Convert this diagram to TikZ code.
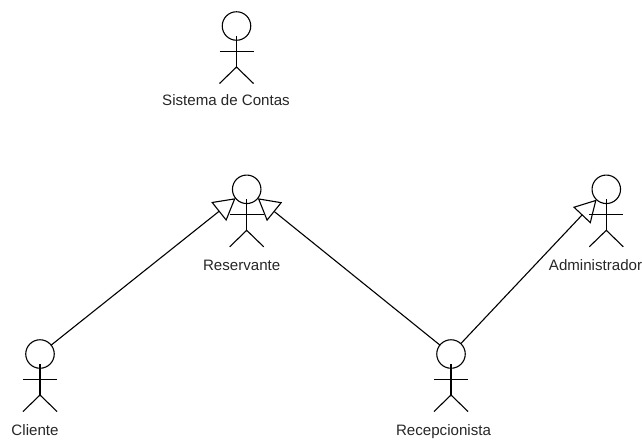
\documentclass[tikz,border=0pt]{standalone}
\usepackage{fontspec}
\setmainfont{Liberation Sans}
\usetikzlibrary{arrows.meta}
\tikzset{
  actorhead/.style={circle,draw,line width=1.1pt,minimum size=28.5pt,inner sep=0pt,outer sep=0pt},
  actorlabel/.style={font=\fontsize{15.1pt}{17pt}\selectfont,text=black!85,inner sep=0pt,anchor=base},
  limb/.style={line width=1.1pt},
  generalize/.style={line width=1.1pt,-{Triangle[open,length=21.5pt,width=24pt,line width=1.1pt]}}
}
\newcommand{\stickman}[6]{%
  \node[actorhead] (#1) at (#2,#3) {};
  \draw[limb] (#2,#3+10) -- (#2,#3+41);
  \draw[limb] (#2-17,#3+25.5) -- (#2+17,#3+25.5);
  \draw[limb] (#2-17,#3+57.5) -- (#2,#3+41) -- (#2+17,#3+57.5);
  \node[actorlabel] (#1label) at (#5,#6) {#4};
}
\begin{document}
\begin{tikzpicture}[x=1pt,y=-1pt]
  \useasboundingbox (0,0) rectangle (642,440);
  \stickman{contas}{236.5}{26}{Sistema de Contas}{226}{105}
  \stickman{reservante}{246.7}{189.3}{Reservante}{241.7}{270}
  \stickman{admin}{606.3}{189.3}{Administrador}{595.5}{270}
  \stickman{cliente}{40}{354}{Cliente}{35}{435}
  \stickman{recep}{451}{354}{Recepcionista}{443.5}{435}
  \draw[generalize] (cliente) -- (reservante);
  \draw[generalize] (recep) -- (reservante);
  \draw[generalize] (recep) -- (admin);
\end{tikzpicture}
\end{document}
